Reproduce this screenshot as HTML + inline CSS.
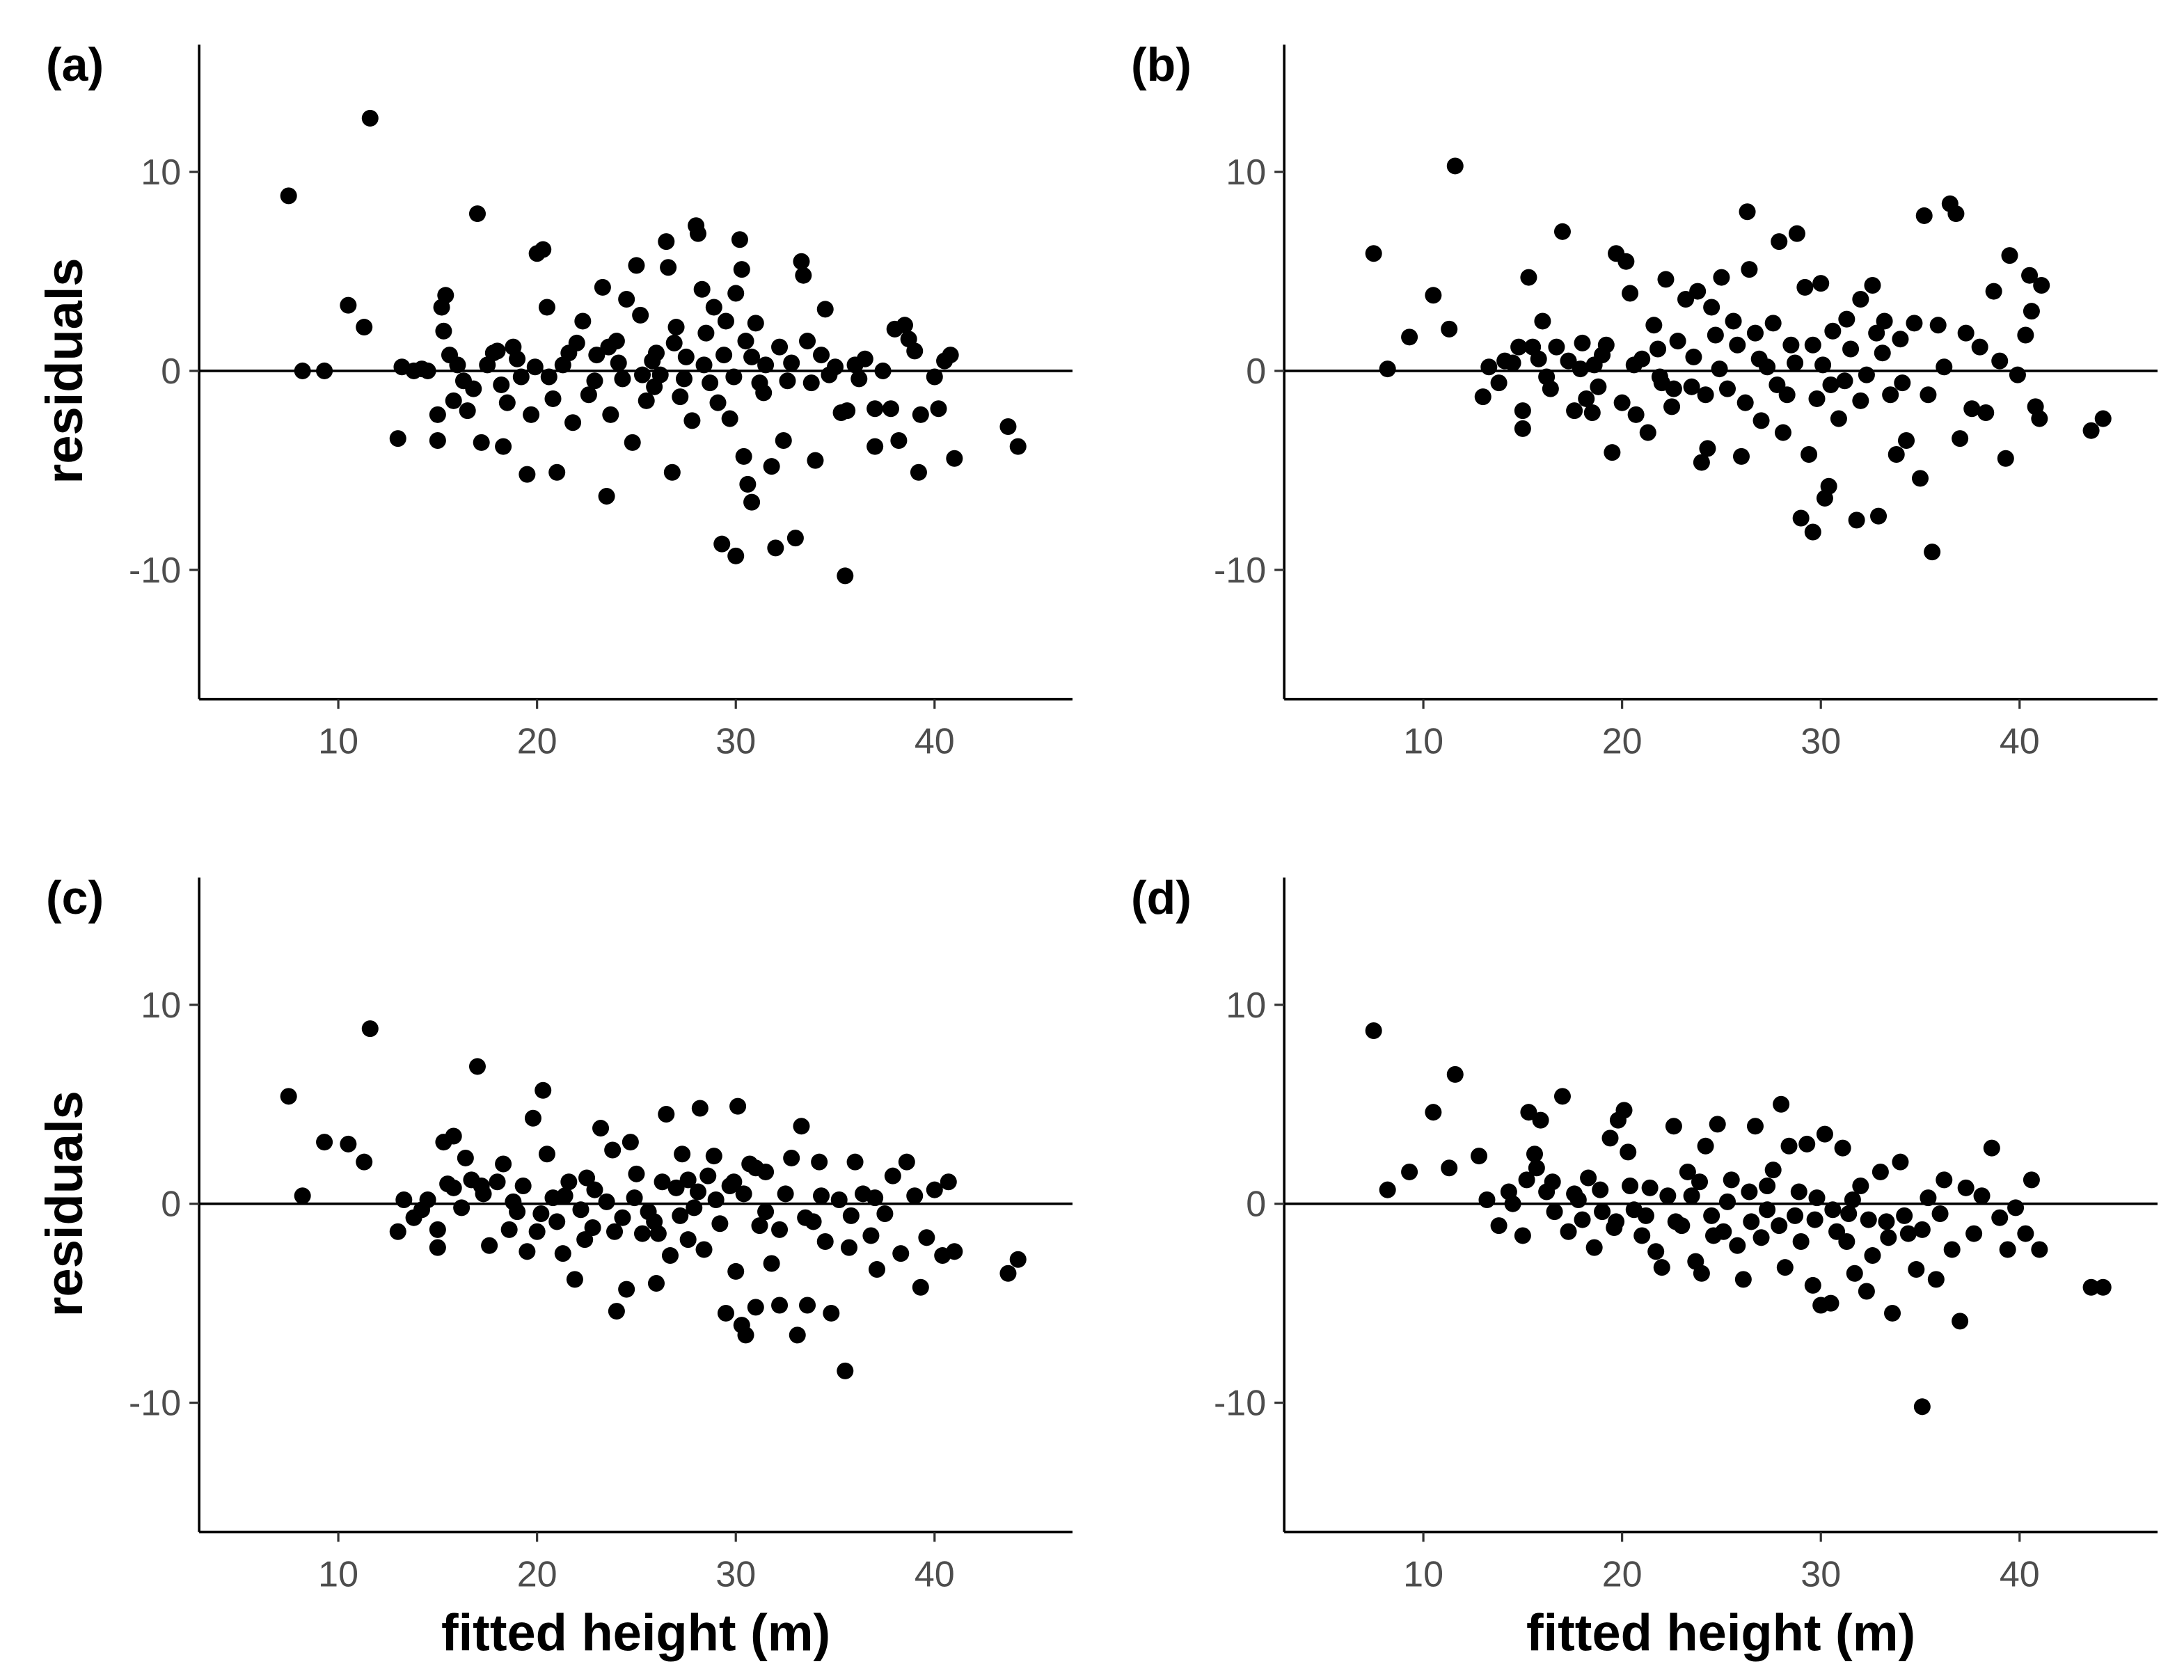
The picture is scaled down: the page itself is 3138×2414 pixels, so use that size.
<!DOCTYPE html>
<html><head><meta charset="utf-8"><style>
html,body{margin:0;padding:0;background:#fff}
svg{display:block}
text{font-family:"Liberation Sans",Arial,sans-serif}
</style></head><body>
<svg id="chart" width="3138" height="2414" viewBox="0 0 1568 1206.2" xmlns="http://www.w3.org/2000/svg"></svg>
<script>
const xTicks=[10,20,30,40];
const yTicks=[10,0,-10];
const panelLabels=["(a)","(b)","(c)","(d)"];
const panelA=[[7.5,8.8],[8.2,0],[9.3,0],[10.5,3.3],[11.3,2.2],[11.6,12.7],[13,-3.4],[13.2,0.2],[13.8,0],[14.5,0],[15,-3.5],[15,-2.2],[15.2,3.2],[15.4,3.8],[15.3,2],[15.6,0.8],[15.8,-1.5],[16.3,-0.5],[16.5,-2],[17,7.9],[17.2,-3.6],[17.5,0.3],[18,1],[18.3,-3.8],[18.5,-1.6],[18.8,1.2],[19.2,-0.3],[19.5,-5.2],[19.7,-2.2],[20,5.9],[20.3,6.1],[20.5,3.2],[20.8,-1.4],[21,-5.1],[21.3,0.3],[21.8,-2.6],[22,1.4],[22.3,2.5],[22.6,-1.2],[23,0.8],[23.3,4.2],[23.5,-6.3],[23.7,-2.2],[24,1.5],[24.3,-0.4],[24.5,3.6],[24.8,-3.6],[25,5.3],[25.2,2.8],[25.5,-1.5],[25.8,0.5],[26.2,-0.2],[26.5,6.5],[26.6,5.2],[26.8,-5.1],[27,2.2],[27.2,-1.3],[27.5,0.7],[27.8,-2.5],[28,7.3],[28.1,6.9],[28.3,4.1],[28.5,1.9],[28.7,-0.6],[28.9,3.2],[29.1,-1.6],[29.3,-8.7],[29.5,2.5],[29.7,-2.4],[30,-9.3],[30,3.9],[30.2,6.6],[30.3,5.1],[30.4,-4.3],[30.5,1.5],[30.6,-5.7],[30.8,-6.6],[31,2.4],[31.2,-0.6],[31.5,0.3],[31.8,-4.8],[32,-8.9],[32.2,1.2],[32.4,-3.5],[32.6,-0.5],[33,-8.4],[33.3,5.5],[33.4,4.8],[33.6,1.5],[34,-4.5],[34.3,0.8],[34.5,3.1],[35,0.2],[35.3,-2.1],[35.5,-10.3],[35.6,-2],[36,0.3],[36.5,0.6],[37,-3.8],[37,-1.9],[37.4,0],[37.8,-1.9],[38,2.1],[38.2,-3.5],[38.5,2.3],[38.7,1.6],[39,1],[39.2,-5.1],[39.3,-2.2],[40,-0.3],[40.2,-1.9],[40.5,0.5],[40.8,0.8],[41,-4.4],[43.7,-2.8],[44.2,-3.8],
[14.2,0.1],[16,0.3],[16.8,-0.9],[17.8,0.9],[19,0.6],[19.9,0.2],[21.6,0.9],[22.9,-0.5],[24.1,0.4],[25.3,-0.2],[26,0.9],[27.4,-0.4],[28.4,0.3],[29.4,0.8],[29.9,-0.3],[31.4,-1.1],[32.8,0.4],[33.8,-0.6],[34.7,-0.2],[36.2,-0.4],[20.6,-0.3],[23.6,1.2],[26.9,1.4],[30.8,0.7],[18.2,-0.7],[25.9,-0.8]];
const panelB=[[7.5,5.9],[8.2,0.1],[9.3,1.7],[10.5,3.8],[11.3,2.1],[11.6,10.3],[13,-1.3],[13.3,0.2],[13.8,-0.6],[14.5,0.4],[15,-2.9],[15,-2],[15.3,4.7],[15.5,1.2],[15.8,0.6],[16,2.5],[16.4,-0.9],[16.7,1.2],[17,7],[17.3,0.5],[17.6,-2],[18,1.4],[18.2,-1.4],[18.5,-2.1],[18.8,-0.8],[19.2,1.3],[19.5,-4.1],[19.7,5.9],[20,-1.6],[20.2,5.5],[20.4,3.9],[20.7,-2.2],[21,0.6],[21.3,-3.1],[21.6,2.3],[21.9,-0.3],[22.2,4.6],[22.5,-1.8],[22.8,1.5],[23.2,3.6],[23.5,-0.8],[23.8,4],[24,-4.6],[24.3,-3.9],[24.5,3.2],[24.7,1.8],[25,4.7],[25.3,-0.9],[25.6,2.5],[26,-4.3],[26.3,8],[26.4,5.1],[26.7,1.9],[27,-2.5],[27.3,0.2],[27.6,2.4],[27.9,6.5],[28.1,-3.1],[28.3,-1.2],[28.5,1.3],[28.8,6.9],[29,-7.4],[29.2,4.2],[29.4,-4.2],[29.6,-8.1],[29.8,-1.4],[30,4.4],[30.2,-6.4],[30.4,-5.8],[30.6,2],[30.9,-2.4],[31.2,-0.5],[31.5,1.1],[31.8,-7.5],[32,3.6],[32.3,-0.2],[32.6,4.3],[32.9,-7.3],[33.2,2.5],[33.5,-1.2],[33.8,-4.2],[34,1.6],[34.3,-3.5],[34.7,2.4],[35,-5.4],[35.2,7.8],[35.4,-1.2],[35.6,-9.1],[35.9,2.3],[36.2,0.2],[36.5,8.4],[36.8,7.9],[37,-3.4],[37.3,1.9],[37.6,-1.9],[38,1.2],[38.3,-2.1],[38.7,4],[39,0.5],[39.3,-4.4],[39.5,5.8],[39.9,-0.2],[40.3,1.8],[40.5,4.8],[40.6,3],[40.8,-1.8],[41,-2.4],[41.1,4.3],[43.6,-3],[44.2,-2.4],
[14.1,0.5],[14.8,1.2],[16.2,-0.3],[17.9,0.1],[19,0.8],[20.6,0.3],[21.8,1.1],[22.6,-0.9],[23.6,0.7],[24.9,0.1],[25.8,1.3],[26.9,0.6],[27.8,-0.7],[28.7,0.4],[29.6,1.3],[30.5,-0.7],[31.3,2.6],[32,-1.5],[33.1,0.9],[34.1,-0.6],[24.2,-1.2],[22,-0.6],[26.2,-1.6],[30.1,0.3],[18.6,0.3],[32.8,1.9]];
const panelC=[[7.5,5.4],[8.2,0.4],[9.3,3.1],[10.5,3],[11.3,2.1],[11.6,8.8],[13,-1.4],[13.3,0.2],[13.8,-0.7],[14.5,0.2],[15,-2.2],[15,-1.3],[15.3,3.1],[15.5,1],[15.8,3.4],[16.2,-0.2],[16.4,2.3],[16.7,1.2],[17,6.9],[17.3,0.5],[17.6,-2.1],[18,1.1],[18.3,2],[18.6,-1.3],[19,-0.4],[19.5,-2.4],[19.8,4.3],[20,-1.4],[20.3,5.7],[20.5,2.5],[20.8,0.3],[21,-0.9],[21.3,-2.5],[21.6,1.1],[21.9,-3.8],[22.2,-0.3],[22.5,1.3],[22.8,-1.2],[23.2,3.8],[23.5,0.1],[23.8,2.7],[24,-5.4],[24.3,-0.7],[24.5,-4.3],[24.7,3.1],[25,1.5],[25.3,-1.5],[25.6,-0.4],[26,-4],[26.3,1.1],[26.5,4.5],[26.7,-2.6],[27,0.8],[27.3,2.5],[27.6,-1.8],[27.9,-0.2],[28.2,4.8],[28.4,-2.3],[28.6,1.4],[28.9,2.4],[29.2,-1],[29.5,-5.5],[29.7,0.9],[30,-3.4],[30.1,4.9],[30.3,-6.1],[30.5,-6.6],[30.7,2],[31,-5.2],[31.2,-1.1],[31.5,1.6],[31.8,-3],[32.2,-5.1],[32.5,0.5],[32.8,2.3],[33.1,-6.6],[33.3,3.9],[33.6,-5.1],[33.9,-0.9],[34.2,2.1],[34.5,-1.9],[34.8,-5.5],[35.2,0.2],[35.5,-8.4],[35.7,-2.2],[36,2.1],[36.4,0.5],[36.8,-1.6],[37.1,-3.3],[37.5,-0.5],[37.9,1.4],[38.3,-2.5],[38.6,2.1],[39,0.4],[39.3,-4.2],[39.6,-1.7],[40,0.7],[40.4,-2.6],[40.7,1.1],[41,-2.4],[43.7,-3.5],[44.2,-2.8],
[14.2,-0.3],[15.8,0.8],[17.2,0.9],[18.8,0.1],[20.2,-0.5],[21.4,0.4],[22.9,0.7],[23.9,-1.4],[24.9,0.3],[25.9,-0.9],[27.2,-0.6],[28.1,0.6],[29,0.2],[30.4,0.5],[31.5,-0.4],[32.2,-1.3],[33.5,-0.7],[34.3,0.4],[35.8,-0.6],[22.4,-1.8],[26.1,-1.5],[29.9,1.1],[31,1.8],[27.6,1.2],[19.3,0.9],[37,0.3]];
const panelD=[[7.5,8.7],[8.2,0.7],[9.3,1.6],[10.5,4.6],[11.3,1.8],[11.6,6.5],[12.8,2.4],[13.2,0.2],[13.8,-1.1],[14.5,0],[15,-1.6],[15.2,1.2],[15.3,4.6],[15.6,2.5],[15.9,4.2],[16.2,0.6],[16.6,-0.4],[17,5.4],[17.3,-1.4],[17.6,0.5],[18,-0.8],[18.3,1.3],[18.6,-2.2],[19,-0.4],[19.4,3.3],[19.6,-1.2],[19.8,4.2],[20.1,4.7],[20.3,2.6],[20.6,-0.3],[21,-1.6],[21.4,0.8],[21.7,-2.4],[22,-3.2],[22.3,0.4],[22.6,3.9],[23,-1.1],[23.3,1.6],[23.7,-2.9],[24,-3.5],[24.2,2.9],[24.5,-0.6],[24.8,4],[25.1,-1.4],[25.5,1.2],[25.8,-2.1],[26.1,-3.8],[26.4,0.6],[26.7,3.9],[27,-1.7],[27.3,-0.3],[27.6,1.7],[28,5],[28.2,-3.2],[28.4,2.9],[28.7,-0.6],[29,-1.9],[29.3,3],[29.6,-4.1],[29.8,0.3],[30,-5.1],[30.2,3.5],[30.5,-5],[30.8,-1.4],[31.1,2.8],[31.4,-0.5],[31.7,-3.5],[32,0.9],[32.3,-4.4],[32.6,-2.6],[33,1.6],[33.3,-0.9],[33.6,-5.5],[34,2.1],[34.4,-1.5],[34.8,-3.3],[35.1,-10.2],[35.4,0.3],[35.8,-3.8],[36.2,1.2],[36.6,-2.3],[37,-5.9],[37.3,0.8],[37.7,-1.5],[38.1,0.4],[38.6,2.8],[39,-0.7],[39.4,-2.3],[39.8,-0.2],[40.3,-1.5],[40.6,1.2],[41,-2.3],[43.6,-4.2],[44.2,-4.2],
[14.3,0.6],[15.7,1.8],[16.5,1.1],[17.8,0.2],[18.9,0.7],[20.4,0.9],[21.2,-0.6],[22.7,-0.9],[23.5,0.4],[24.6,-1.6],[25.3,0.1],[26.5,-0.9],[27.9,-1.1],[28.9,0.6],[29.7,-0.8],[30.6,-0.3],[31.6,0.2],[32.4,-0.8],[33.4,-1.7],[34.2,-0.6],[35.1,-1.3],[36,-0.5],[23.9,1.1],[19.7,-0.9],[27.3,0.9],[31.3,-1.9]];
const panelData=[panelA,panelB,panelC,panelD];
const ns="http://www.w3.org/2000/svg";
const svg=document.getElementById('chart');
function mk(tag,attrs,parent){const e=document.createElementNS(ns,tag);for(const k in attrs)e.setAttribute(k,attrs[k]);(parent||svg).appendChild(e);return e;}
const panels=[{x0:143,top:32},{x0:922,top:32},{x0:143,top:630},{x0:922,top:630}];
const W=627,H=470,xMin=3.0,xMax=46.94,yMin=-16.5,yMax=16.4;
panels.forEach((p,i)=>{
  const g=mk('g',{});
  
  
  const sx=v=>p.x0+(v-xMin)/(xMax-xMin)*W;
  const sy=v=>p.top+(yMax-v)/(yMax-yMin)*H;
  const lab=mk('text',{x:p.x0-110,y:p.top+26,'font-size':34,'font-weight':'bold',fill:'#000'},g);
  lab.textContent=panelLabels[i];
  
  
  const ref=mk('line',{x1:p.x0,x2:p.x0+W,y1:sy(0),y2:sy(0),stroke:'#000','stroke-width':1.8},g);
  
  
  panelData[i].forEach(d=>{
    const c=mk('circle',{cx:sx(d[0]),cy:sy(d[1]),r:6,fill:'#000'},g);
    
    
  });
  const ya=mk('line',{x1:p.x0,x2:p.x0,y1:p.top,y2:p.top+H,stroke:'#000','stroke-width':1.8},g);
  
  
  const xa=mk('line',{x1:p.x0,x2:p.x0+W,y1:p.top+H,y2:p.top+H,stroke:'#000','stroke-width':1.8},g);
  
  
  yTicks.forEach(t=>{
    const tl=mk('line',{x1:p.x0-7,x2:p.x0,y1:sy(t),y2:sy(t),stroke:'#333','stroke-width':1.6},g);
    
    
    const tt=mk('text',{x:p.x0-13,y:sy(t)+9,'font-size':26,fill:'#4d4d4d','text-anchor':'end'},g);
    tt.textContent=t;
    
    
  });
  xTicks.forEach(t=>{
    const tl=mk('line',{x1:sx(t),x2:sx(t),y1:p.top+H,y2:p.top+H+7,stroke:'#333','stroke-width':1.6},g);
    
    
    const tt=mk('text',{x:sx(t),y:p.top+H+39,'font-size':26,fill:'#4d4d4d','text-anchor':'middle'},g);
    tt.textContent=t;
    
    
  });
  if(i%2===0){
    const yt=mk('text',{x:0,y:0,'font-size':37,'font-weight':'bold',fill:'#000','text-anchor':'middle',transform:`translate(${p.x0-84},${sy(0)}) rotate(-90)`},g);
    yt.textContent='residuals';
    
    
  }
  if(i>=2){
    const xt=mk('text',{x:p.x0+W/2,y:p.top+H+85,'font-size':37,'font-weight':'bold',fill:'#000','text-anchor':'middle'},g);
    xt.textContent='fitted height (m)';
    
    
  }
});
</script>
</body></html>
